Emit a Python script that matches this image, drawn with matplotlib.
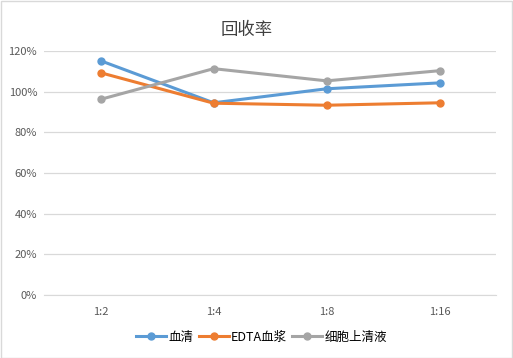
import matplotlib.pyplot as plt
from matplotlib.ticker import FuncFormatter

plt.rcParams['font.family'] = ['Noto Sans CJK SC', 'DejaVu Sans']

# Data
categories = ['1:2', '1:4', '1:8', '1:16']
serum = [115.3, 94.6, 101.5, 104.4]
edta = [109.4, 94.4, 93.4, 94.6]
supernatant = [96.3, 111.4, 105.4, 110.4]

series = [
    ('血清', serum, '#5B9BD5'),
    ('EDTA血浆', edta, '#ED7D31'),
    ('细胞上清液', supernatant, '#A5A5A5'),
]

fig = plt.figure(figsize=(5.13, 3.58), dpi=100)
ax = fig.add_axes([0.086, 0.176, 0.881, 0.681])

x = range(len(categories))
for name, vals, color in series:
    ax.plot(x, vals, color=color, lw=2.2, marker='o', ms=5, label=name)

ax.set_xlim(-0.5, len(categories) - 0.5)
ax.set_ylim(0, 120)
ax.set_yticks(range(0, 121, 20))
ax.yaxis.set_major_formatter(FuncFormatter(lambda v, p: f'{int(v)}%'))
ax.set_xticks(list(x))
ax.set_xticklabels(categories)
ax.grid(axis='y', color='#D9D9D9', lw=0.9)
ax.set_axisbelow(True)
for s in ['top', 'right', 'left']:
    ax.spines[s].set_visible(False)
ax.spines['bottom'].set_color('#D9D9D9')
ax.tick_params(length=0, labelsize=8, colors='#595959', pad=5)
ax.tick_params(axis='x', pad=9)

fig.text(0.48, 0.915, '回收率', ha='center', va='center', fontsize=12.5, color='#404040')
fig.legend(loc='center', bbox_to_anchor=(0.51, 0.058), ncol=3, frameon=False,
           fontsize=9, handlelength=2.4, handletextpad=0.2, columnspacing=0.4)

fig.patches.append(plt.Rectangle((0.001, 0.001), 0.997, 0.997, transform=fig.transFigure,
                                 fill=False, edgecolor='#D9D9D9', lw=1))

fig.savefig('out.png', dpi=100)
